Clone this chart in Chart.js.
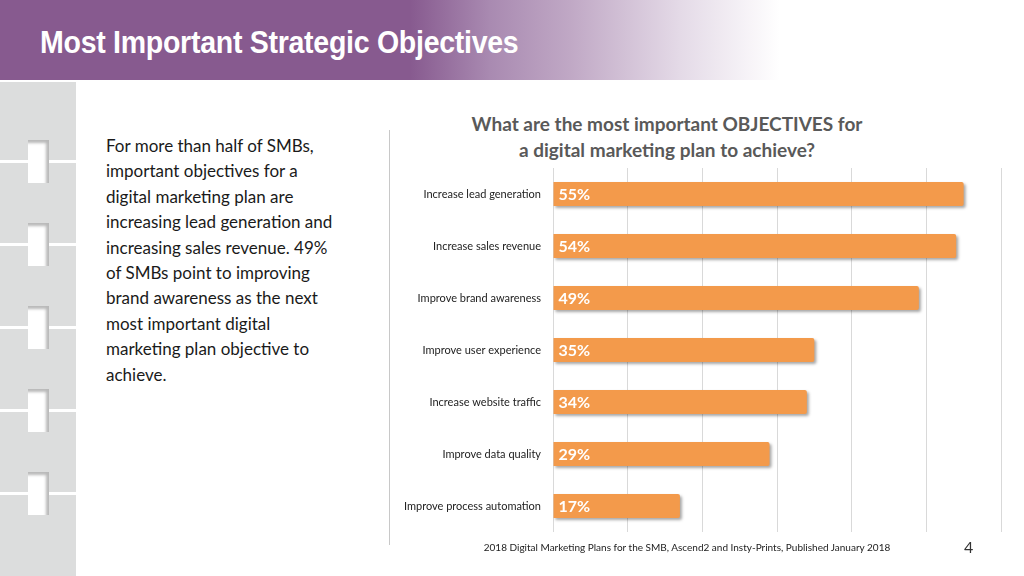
<!DOCTYPE html>
<html>
<head>
<meta charset="utf-8">
<script src="https://cdn.jsdelivr.net/npm/chart.js@4.4.1/dist/chart.umd.min.js"></script>
<style>
  html, body { margin: 0; padding: 0; width: 1024px; height: 576px; overflow: hidden; background: #fff; font-family: Lato, "Open Sans", sans-serif; }
  #header { position: absolute; left: 0; top: 0; width: 1024px; height: 80px;
    background: linear-gradient(to right, #875A8F 0px, #875A8F 410px, #A98AB1 490px, #C0A8C5 570px, #E4DAE7 680px, #ffffff 780px); }
  #header h1 { position: absolute; left: 40px; top: 25px; margin: 0; color: #fff; font-family: "Liberation Sans Narrow", "Liberation Sans", Arial, sans-serif; font-weight: bold; font-size: 31px; line-height: 36px; transform: scaleX(0.92); transform-origin: 0 0; white-space: nowrap; letter-spacing: -0.3px; }
  #strip { position: absolute; left: 0; top: 82px; width: 76px; height: 494px; background: #DCDDDD; }
  .gap { position: absolute; left: 0; width: 76px; height: 3px; background: #fff; }
  .notch { position: absolute; left: 28px; width: 21px; height: 43px; background: #fff; box-shadow: inset -3px 3px 3px rgba(0,0,0,0.28); }
  #leftText { position: absolute; left: 106px; top: 133px; font-family: Lato, sans-serif; font-size: 17px; line-height: 25.4px; color: #1a1a1a; }
  #sep { position: absolute; left: 389px; top: 130px; width: 1px; height: 415px; background: #c8c8c8; }
  #ctitle { position: absolute; left: 417px; width: 500px; top: 111px; text-align: center; font-family: Lato, sans-serif; font-weight: bold; font-size: 19px; line-height: 26px; color: #595959; }
  #footer { position: absolute; left: 420px; width: 534px; top: 541px; text-align: center; font-family: Lato, sans-serif; font-size: 10px; color: #222; }
  #pnum { position: absolute; left: 964px; top: 537px; font-family: Lato, sans-serif; font-size: 16px; color: #333; }
  #chartBox { position: absolute; left: 390px; top: 156px; width: 634px; height: 388px; }
</style>
</head>
<body>
<div id="header"><h1>Most Important Strategic Objectives</h1></div>
<div id="strip">
  <div class="gap" style="top:78px"></div>
  <div class="gap" style="top:161px"></div>
  <div class="gap" style="top:244px"></div>
  <div class="gap" style="top:327px"></div>
  <div class="gap" style="top:410px"></div>
  <div class="notch" style="top:58px"></div>
  <div class="notch" style="top:141px"></div>
  <div class="notch" style="top:224px"></div>
  <div class="notch" style="top:307px"></div>
  <div class="notch" style="top:390px"></div>
</div>
<div id="leftText">For more than half of SMBs,<br>important objectives for a<br>digital marketing plan are<br>increasing lead generation and<br>increasing sales revenue. 49%<br>of SMBs point to improving<br>brand awareness as the next<br>most important digital<br>marketing plan objective to<br>achieve.</div>
<div id="sep"></div>
<div id="ctitle">What are the most important OBJECTIVES for<br>a digital marketing plan to achieve?</div>
<div id="chartBox"><canvas id="c" width="634" height="388"></canvas></div>
<div id="footer">2018 Digital Marketing Plans for the SMB, Ascend2 and Insty-Prints, Published January 2018</div>
<div id="pnum">4</div>
<script>
const categories = ["Increase lead generation", "Increase sales revenue", "Improve brand awareness", "Improve user experience", "Increase website traffic", "Improve data quality", "Improve process automation"];
const values = [55, 54, 49, 35, 34, 29, 17];
const axisMax = 60;
const axisStep = 10;

const shadowPlugin = {
  id: 'barShadow',
  beforeDatasetsDraw(chart) {
    const ctx = chart.ctx;
    ctx.save();
    ctx.shadowColor = 'rgba(0,0,0,0.35)';
    ctx.shadowOffsetX = 2;
    ctx.shadowOffsetY = 2;
    ctx.shadowBlur = 3;
  },
  afterDatasetsDraw(chart) {
    chart.ctx.restore();
    const ctx = chart.ctx;
    const meta = chart.getDatasetMeta(0);
    ctx.save();
    ctx.fillStyle = '#ffffff';
    ctx.font = 'bold 16px Lato, sans-serif';
    ctx.textAlign = 'left';
    ctx.textBaseline = 'middle';
    meta.data.forEach((bar, i) => {
      ctx.fillText(values[i] + '%', bar.base + 5, bar.y + 1);
    });
    ctx.restore();
  }
};

new Chart(document.getElementById('c'), {
  type: 'bar',
  data: {
    labels: categories,
    datasets: [{
      data: values,
      backgroundColor: '#F39A4B',
      borderWidth: 0,
      borderRadius: { topRight: 2, bottomRight: 2 },
      borderSkipped: false,
      barPercentage: 0.92,
      categoryPercentage: 0.5
    }]
  },
  options: {
    indexAxis: 'y',
    responsive: false,
    animation: false,
    events: [],
    layout: { padding: { left: 0, right: 23, top: 12, bottom: 12 } },
    plugins: { legend: { display: false }, tooltip: { enabled: false }, title: { display: false } },
    scales: {
      x: {
        min: 0, max: axisMax,
        ticks: { display: false, stepSize: axisStep },
        grid: { color: '#D9D9D9', lineWidth: 1, drawTicks: false },
        border: { display: false },
        afterFit(scale) { scale.height = 0; scale.paddingLeft = 0; scale.paddingRight = 0; }
      },
      y: {
        grid: { display: false },
        border: { display: false },
        ticks: { color: '#222', font: { family: 'Lato, sans-serif', size: 11 }, padding: 4 },
        afterFit(scale) { scale.width = 163; scale.paddingTop = 0; scale.paddingBottom = 0; }
      }
    }
  },
  plugins: [shadowPlugin]
});
</script>
</body>
</html>
